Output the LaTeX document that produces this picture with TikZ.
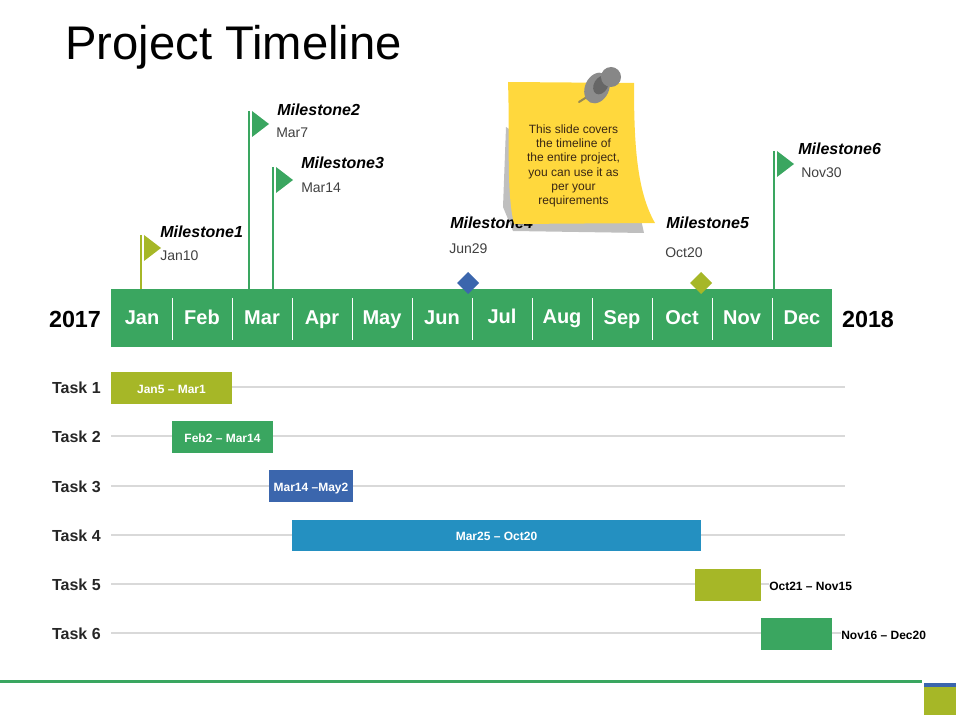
\documentclass[tikz,border=0pt]{standalone}
\usepackage{fontspec}
\setmainfont{Liberation Sans}
\usepackage{xcolor}
\usepackage{tikz}
\usetikzlibrary{calc}
\definecolor{tlgreen}{HTML}{3AA660}
\definecolor{tlolive}{HTML}{A6B727}
\definecolor{tlblue}{HTML}{3B66AD}
\definecolor{tlcyan}{HTML}{2490C1}
\definecolor{tlnote}{HTML}{FFD83D}
\definecolor{tlneedle}{HTML}{9A8A50}
\tikzstyle{monthlabel}=[anchor=base, text=white, font=\fontsize{15}{18}\selectfont\bfseries, inner sep=0pt]
\tikzstyle{yearlabel}=[anchor=base, font=\fontsize{17.5}{20}\selectfont\bfseries, inner sep=0pt]
\tikzstyle{milestonelabel}=[anchor=base west, inner sep=0pt, font=\fontsize{12}{14}\selectfont\bfseries\itshape]
\tikzstyle{datelabel}=[anchor=base west, inner sep=0pt, text=black!75, font=\fontsize{10.5}{12}\selectfont]
\tikzstyle{tasklabel}=[anchor=base east, inner sep=0pt, text=black!85, font=\fontsize{12}{14}\selectfont\bfseries]
\tikzstyle{barlabel}=[anchor=base, inner sep=0pt, text=white, font=\fontsize{9}{11}\selectfont\bfseries]
\tikzstyle{sidelabel}=[anchor=base west, inner sep=0pt, fill=white, font=\fontsize{9}{11}\selectfont\bfseries]
\tikzstyle{taskline}=[line width=1.1pt, black!15]
\newcommand{\milestoneFlag}[3]{
	\draw[line width=2pt, #1] (#2,#3) -- (#2,289);
	\fill[#1] ($(#2,#3)+(3,0)$) -- ($(#2,#3)+(20,13)$) -- ($(#2,#3)+(3,26)$) -- cycle;
}
\newcommand{\taskBar}[4]{
	\fill[#1] #2 rectangle #3;
	\node[barlabel] at ($#2!.5!#3+(0,5)$) {#4};
}
\begin{document}
\begin{tikzpicture}[x=.75pt,y=-.75pt]
	\useasboundingbox (0,0) rectangle (960,720);
	\node[anchor=base west, inner sep=0pt, font=\fontsize{35.4}{40}\selectfont] (title) at (65,60) {Project Timeline};
	% milestones
	\milestoneFlag{tlolive}{141}{235}
	\milestoneFlag{tlgreen}{249}{111}
	\milestoneFlag{tlgreen}{273}{167}
	\milestoneFlag{tlgreen}{774}{151}
	\node[milestonelabel] (mone) at (160,237.5) {Milestone1};
	\node[datelabel] (done) at (160,261) {Jan10};
	\node[milestonelabel] (mtwo) at (277,115.5) {Milestone2};
	\node[datelabel] (dtwo) at (276,138) {Mar7};
	\node[milestonelabel] (mthree) at (301,168.5) {Milestone3};
	\node[datelabel] (dthree) at (301,193) {Mar14};
	\node[datelabel] (dfour) at (449,254) {Jun29};
	\node[milestonelabel] (mfive) at (666,228.5) {Milestone5};
	\node[datelabel] (dfive) at (665,258) {Oct20};
	\node[milestonelabel] (msix) at (798,154.5) {Milestone6};
	\node[datelabel] (dsix) at (801,178) {Nov30};
	% sticky note
	\fill[black!25] (506,127) -- (503,207) -- (513,231) -- (644,233) -- (640,215) -- cycle;
	\node[milestonelabel] (mfour) at (450,228.5) {Milestone4};
	\fill[tlnote] (508,82) -- (634,83) .. controls (634,140) and (636,190) .. (655,223) -- (514,224) .. controls (506,190) and (510,140) .. (508,82) -- cycle;
	\draw[line width=1.5pt, tlneedle, line cap=round] (579,102) -- (590,95);
	\fill[black!45, rotate around={-25:(597,88)}] (597,88) ellipse (12 and 16);
	\fill[black!60, rotate around={-30:(601,85)}] (601,85) ellipse (7 and 10);
	\fill[black!47] (611,77) circle (10);
	\node[inner sep=0pt, align=center, text=black!70!brown, font=\fontsize{9}{10.7}\selectfont] (note) at (573.5,166) {This slide covers\\ the timeline of\\the entire project,\\you can use it as\\per your\\requirements};
	% months
	\fill[tlgreen] (111,289) rectangle (832,347);
	\foreach \x/\m in {142/Jan,202/Feb,262/Mar,322/Apr,382/May,442/Jun,622/Sep,682/Oct,742/Nov,802/Dec}
		\node[monthlabel] (\m) at (\x,325) {\m};
	\node[monthlabel] (Jul) at (502,323) {Jul};
	\node[monthlabel] (Aug) at (562,323) {Aug};
	\foreach \x in {172,232,...,772}
		\draw[white, line width=.7pt] (\x,298) -- (\x,340);
	\fill[tlblue] (468,272) -- (479,283) -- (468,294) -- (457,283) -- cycle;
	\fill[tlolive] (701,272) -- (712,283) -- (701,294) -- (690,283) -- cycle;
	\node[yearlabel] (ystart) at (75,327) {2017};
	\node[yearlabel] (yend) at (868,327) {2018};
	% tasks
	\foreach \y/\n in {387/1,436/2,486/3,535/4,584/5,633/6}{
		\node[tasklabel] (task\n) at (101,\y+6.5) {Task \n};
		\coordinate (tstart\n) at (111,\y);
		\coordinate (tend\n) at (845,\y);
		\draw[taskline] (tstart\n) -- (tend\n);
	}
	\taskBar{tlolive}{(111,372)}{(232,404)}{Jan5 -- Mar1}
	\taskBar{tlgreen}{(172,421)}{(273,453)}{Feb2 -- Mar14}
	\taskBar{tlblue}{(269,470)}{(353,502)}{Mar14 --May2}
	\taskBar{tlcyan}{(292,520)}{(701,551)}{Mar25 -- Oct20}
	\taskBar{tlolive}{(695,569)}{(761,601)}{}
	\taskBar{tlgreen}{(761,618)}{(832,650)}{}
	\node[sidelabel] (sfive) at (769,590) {Oct21 -- Nov15};
	\node[sidelabel] (ssix) at (841,639) {Nov16 -- Dec20};
	% footer
	\draw[line width=2.4pt, tlgreen] (0,681.5) -- (922,681.5);
	\fill[tlblue] (924,683) rectangle (956,687);
	\fill[tlolive] (924,687) rectangle (956,715);
\end{tikzpicture}
\end{document}
